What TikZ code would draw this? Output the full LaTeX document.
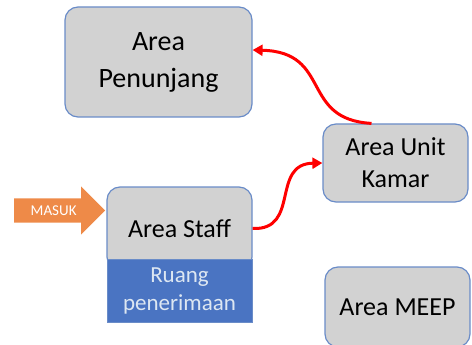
\documentclass[tikz,border=0pt]{standalone}
\usepackage{fontspec}
\setmainfont{Carlito}
\usetikzlibrary{arrows.meta,positioning,shapes.arrows}
\definecolor{boxgray}{HTML}{D2D2D2}
\definecolor{boxline}{HTML}{6A8CC8}
\definecolor{ruangblue}{HTML}{4A74C2}
\definecolor{ruangtext}{HTML}{DDE7F2}
\definecolor{masukorange}{HTML}{EE8A48}

\begin{document}
\begin{tikzpicture}[x=1pt,y=-1pt,>=Triangle]
\tikzstyle{area}=[draw=boxline,line width=1.2pt,fill=boxgray,rounded corners=13pt,align=center,font=\fontsize{26}{32}\selectfont]
\tikzstyle{flow}=[red,line width=3pt,-{Triangle[length=10pt,width=11pt]}]
\useasboundingbox (0,0) rectangle (472,345);
\clip (0,0) rectangle (472,345);
\node[area,minimum width=187pt,minimum height=110pt,font=\fontsize{28}{37}\selectfont] (pen) at (158.5,62) {Area\\Penunjang};
\node[area,minimum width=145pt,minimum height=78pt] (unit) at (395.5,163) {Area Unit\\Kamar};
\node[area,minimum width=145pt,minimum height=83pt] (staff) at (179.5,228.5) {Area Staff};
\node[draw=boxline,line width=0.8pt,fill=ruangblue,text=ruangtext,minimum width=145pt,minimum height=63pt,align=center,font=\fontsize{23}{28}\selectfont] (ruang) at (179.5,290.5) {Ruang\\penerimaan};
\node[area,minimum width=145pt,minimum height=80pt] (meep) at (397.5,307) {Area MEEP};
\node[single arrow,fill=masukorange,text=white,single arrow head extend=12pt,minimum height=91pt,inner xsep=2pt,inner ysep=7pt,anchor=tail,font=\fontsize{15}{15}\selectfont] (masuk) at (14,210.5) {MASUK};
\draw[flow] (staff.east) .. controls +(48,2) and +(-52,1) .. (unit.west);
\draw[flow] ([xshift=-24pt]unit.north) .. controls +(-72,-4) and +(80,2) .. ([yshift=12pt]pen.east);
\end{tikzpicture}
\end{document}
